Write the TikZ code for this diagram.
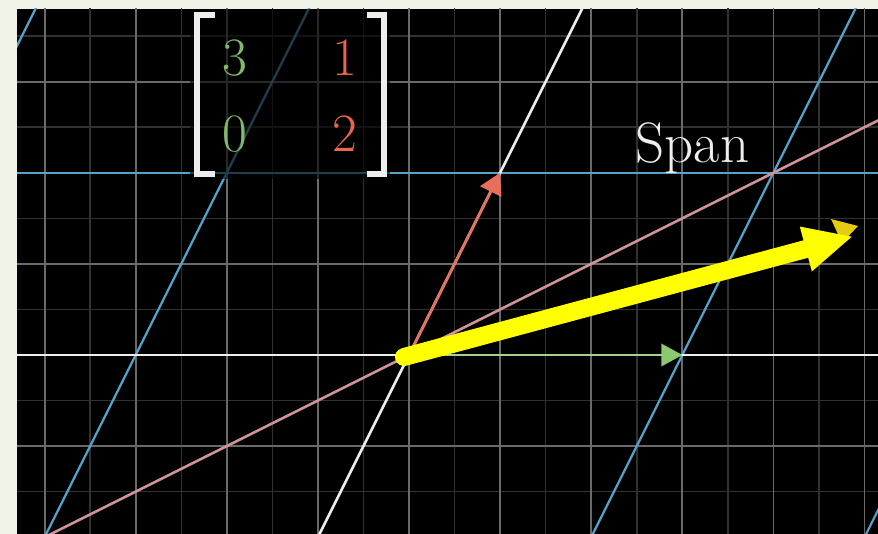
\documentclass[tikz,border=0pt]{standalone}
\usetikzlibrary{arrows.meta}
\definecolor{beige}{HTML}{F2F3E8}
\definecolor{gmaj}{HTML}{6A6A6A}
\definecolor{gmin}{HTML}{313131}
\definecolor{bl}{HTML}{55A3C8}
\definecolor{pk}{HTML}{D4919E}
\definecolor{rd}{HTML}{E8705A}
\definecolor{gr}{HTML}{8CC870}
\definecolor{grl}{HTML}{A2D490}
\definecolor{ylw}{HTML}{FFFF00}
\definecolor{gold}{HTML}{E6CC10}
\definecolor{wh}{HTML}{EEEEEE}
\definecolor{mgreen}{HTML}{80BA68}
\definecolor{mred}{HTML}{EA6450}
\begin{document}
\begin{tikzpicture}[x=1pt,y=-1pt,
  majorline/.style={gmaj, line width=1.8pt},
  minorline/.style={gmin, line width=1.5pt},
  tline/.style={bl, line width=2.2pt},
  axisline/.style={wh, line width=2.5pt},
  spanline/.style={pk, line width=2.5pt},
  vec/.style={line width=2.5pt},
  entry/.style={font=\fontsize{54}{60}\selectfont, inner sep=0pt, anchor=base},
  brk/.style={wh, line width=6pt, line join=miter},
]
\useasboundingbox (0,0) rectangle (878,534);
\fill[beige] (0,0) rectangle (878,534);
\fill[black] (17,9) rectangle (878,534);
\coordinate (O) at (409,355);
\coordinate (I) at (682.3,355);
\coordinate (J) at (500.1,172.8);
\coordinate (ys) at (404,357);
\coordinate (yt) at (851.7,236.7);
\begin{scope}
\clip (17,9) rectangle (878,534);
% background grid
\foreach \k in {-5,...,5} {
  \draw[minorline] ({409+91.1*(\k+0.5)},0) -- ++(0,540);
}
\foreach \k in {-3,...,4} {
  \draw[minorline] (0,{355-91.1*(\k+0.5)}) -- ++(880,0);
}
\foreach \k in {-4,...,5} {
  \draw[majorline] ({409+91.1*\k},0) -- ++(0,540);
}
\foreach \k in {-2,...,4} {
  \draw[majorline] (0,{355-91.1*\k}) -- ++(880,0);
}
% transformed grid
\foreach \k in {-2,-1,1,2} {
  \draw[tline] ({409+91.1*(3*\k-3)},{355+91.1*6}) -- ({409+91.1*(3*\k+3)},{355-91.1*6});
}
\draw[tline] (0,172.8) -- (880,172.8);
% axes
\draw[axisline] (0,355) -- (880,355);
\draw[axisline] ({409-91.1*3},{355+91.1*6}) -- ({409+91.1*3},{355-91.1*6});
% span line
\draw[spanline] ({409-91.1*6},{355+91.1*3}) -- ({409+91.1*6},{355-91.1*3});
% basis vectors
\draw[vec, grl, -{Triangle[length=21pt,width=23pt,line width=0pt,color=gr,fill=gr]}] (O) -- (I);
\draw[vec, rd, -{Triangle[length=21pt,width=24pt,line width=0pt]}] (O) -- (J);
% matrix backdrop
\fill[black, opacity=0.62] (190,9) rectangle (390,179);
\end{scope}
% matrix
\draw[brk] (215,15.5) -- (196.5,15.5) -- (196.5,174.5) -- (215,174.5);
\draw[brk] (367,15.5) -- (383.5,15.5) -- (383.5,174.5) -- (367,174.5);
\node[entry, mgreen] (m11) at (234.5,75.5) {3};
\node[entry, mred] (m12) at (345,75.5) {1};
\node[entry, mgreen] (m21) at (234.5,152) {0};
\node[entry, mred] (m22) at (345,152) {2};
% label
\node[font=\fontsize{57}{63}\selectfont, wh, inner sep=0pt, anchor=base west] (span) at (635.5,163) {Span};
% yellow annotation
\fill[gold] (831,219) -- (858,226) -- (842,243) -- cycle;
\draw[ylw, line width=18pt, line cap=round, -{Triangle[length=47.5pt,width=46.5pt,line width=0pt]}] (ys) -- (yt);
\end{tikzpicture}
\end{document}
